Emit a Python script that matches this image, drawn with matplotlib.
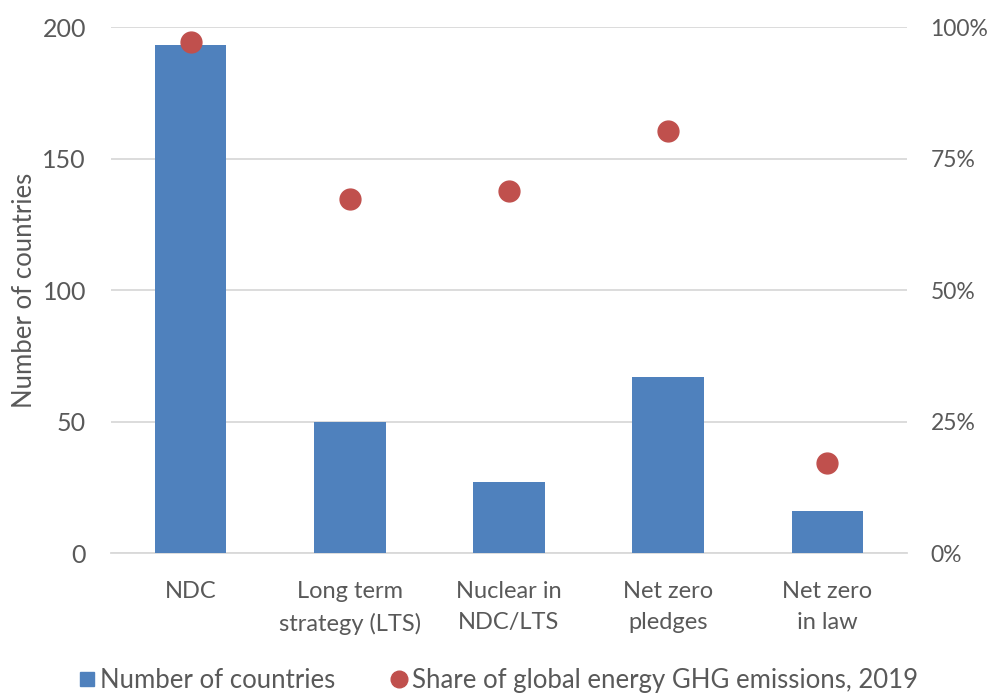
import matplotlib.pyplot as plt
from matplotlib.lines import Line2D
from matplotlib.ticker import FuncFormatter

plt.rcParams['font.family'] = ['Lato', 'DejaVu Sans']

categories = ['NDC', 'Long term\nstrategy (LTS)', 'Nuclear in\nNDC/LTS', 'Net zero\npledges', 'Net zero\nin law']
countries = [193, 50, 27, 67, 16]
emission_share = [97.1, 67.3, 68.8, 80.2, 17.1]

BAR = '#4F81BD'
DOT = '#C0504D'
TXT = '#595959'
GRID = '#D9D9D9'

fig = plt.figure(figsize=(9.92, 6.93), dpi=100)
ax = fig.add_axes([0.1119, 0.2020, 0.8024, 0.7590])
ax2 = ax.twinx()

x = range(len(categories))
ax.bar(x, countries, width=0.45, color=BAR, zorder=3)
ax2.plot(x, emission_share, 'o', color=DOT, markersize=15, zorder=4)

ax.set_xlim(-0.5, len(categories) - 0.5)
ax.set_ylim(0, 200)
ax.set_yticks([0, 50, 100, 150, 200])
ax2.set_ylim(0, 100)
ax2.set_yticks([0, 25, 50, 75, 100])
ax2.yaxis.set_major_formatter(FuncFormatter(lambda v, p: f'{v:.0f}%'))

ax.grid(axis='y', color=GRID, linewidth=1.3, zorder=0)
ax.set_axisbelow(True)
for a in (ax, ax2):
    for s in a.spines.values():
        s.set_visible(False)
    a.tick_params(length=0, labelsize=18, colors=TXT)
ax2.tick_params(axis='y', labelsize=16.5, pad=17)
ax.spines['bottom'].set_visible(True)
ax.spines['bottom'].set_color(GRID)
ax.spines['bottom'].set_linewidth(1.3)

ax.set_xticks(list(x))
ax.set_xticklabels(categories, linespacing=1.6, fontsize=17)
ax.tick_params(axis='x', pad=20)
ax.tick_params(axis='y', pad=18)
ax.set_ylabel('Number of countries', fontsize=18.5, color=TXT, labelpad=4)

# twin axes drawn over the bars; keep the dots visible above the bars
ax2.set_zorder(ax.get_zorder() + 1)
ax2.patch.set_visible(False)

handles = [
    Line2D([], [], marker='s', linestyle='none', color=BAR, markersize=10),
    Line2D([], [], marker='o', linestyle='none', color=DOT, markersize=12),
]
labels = ['Number of countries', 'Share of global energy GHG emissions, 2019']
leg = fig.legend(handles, labels, loc='center', bbox_to_anchor=(0.5, 0.018), ncol=2,
                 frameon=False, fontsize=18.5, handletextpad=0.0, columnspacing=2.0,
                 handlelength=1.0)
for t in leg.get_texts():
    t.set_color(TXT)

fig.savefig('out.png', dpi=100)
